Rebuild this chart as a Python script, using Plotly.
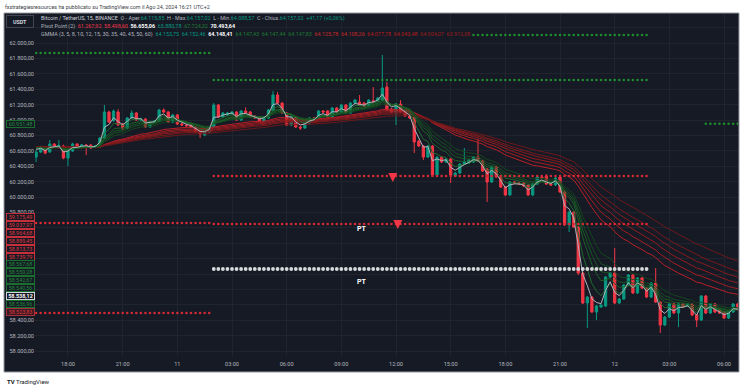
import plotly.graph_objects as go
from datetime import datetime, timedelta

# ---------------- data ----------------
open_ = [60519, 60584, 60649, 60584, 60688, 60660, 60662, 60506, 60597, 60688,
         60662, 60675, 60675, 60649, 60649, 60766, 61104, 60990, 61104, 60948,
         60896, 61026, 61091, 61000, 61013, 60909, 60974, 60987, 61130, 61104,
         60974, 61065, 60948, 60935, 60935, 60909, 60857, 60805, 60844, 60909,
         61195, 61039, 61065, 61078, 61104, 61000, 61117, 61104, 61052, 61039,
         60987, 61026, 61130, 61325, 61220, 61091, 60935, 61039, 60909, 60896,
         60961, 61026, 61026, 61117, 61117, 61039, 61156, 61104, 61195, 61091,
         61220, 61233, 61220, 61182, 61250, 61246, 61259, 61428, 61143, 61104,
         61208, 61117, 61052, 61039, 60727, 60662, 60519, 60662, 60286, 60519,
         60454, 60493, 60273, 60312, 60428, 60441, 60454, 60519, 60467, 60363,
         60195, 60389, 60260, 60130, 60026, 60195, 60182, 60182, 60156, 60026,
         60169, 60260, 60273, 60169, 60156, 60260, 60065, 59636, 59805, 59610,
         59013, 58623, 58701, 58506, 58571, 58584, 58961, 59013, 58623, 58675,
         58857, 58987, 58753, 58948, 58818, 58701, 58883, 58636, 58337, 58441,
         58610, 58493, 58610, 58584, 58610, 58467, 58402, 58714, 58493, 58610,
         58532, 58506, 58428, 58506, 58610]
high = [60610, 60665, 60662, 60740, 60700, 60740, 60680, 60620, 60705, 60700,
        60690, 60688, 60690, 60675, 60780, 61195, 61120, 61135, 61140, 60960,
        61040, 61125, 61105, 61030, 61025, 60990, 61000, 61145, 61150, 61117,
        61080, 61080, 60960, 60950, 60948, 60922, 60870, 60857, 60922, 61220,
        61210, 61104, 61104, 61117, 61117, 61130, 61165, 61117, 61065, 61052,
        61052, 61143, 61376, 61363, 61233, 61104, 61052, 61052, 60922, 60974,
        61039, 61039, 61130, 61130, 61130, 61170, 61170, 61208, 61208, 61233,
        61272, 61325, 61233, 61272, 61428, 61300, 61844, 61493, 61156, 61220,
        61259, 61130, 61065, 61052, 60740, 60675, 60675, 60675, 60530, 60530,
        60506, 60506, 60325, 60441, 60636, 60493, 60532, 60753, 60480, 60375,
        60402, 60402, 60273, 60143, 60208, 60208, 60195, 60195, 60169, 60182,
        60273, 60273, 60299, 60182, 60260, 60273, 60078, 59818, 59818, 59623,
        59026, 58714, 58714, 58597, 58610, 58974, 59026, 59338, 58688, 58870,
        59000, 59000, 58961, 58961, 58831, 58896, 59078, 58649, 58454, 58623,
        58623, 58623, 58623, 58623, 58623, 58480, 58727, 58727, 58623, 58623,
        58545, 58519, 58519, 58623, 58623]
low = [60454, 60570, 60555, 60575, 60650, 60648, 60490, 60402, 60585, 60635,
       60650, 60545, 60625, 60640, 60640, 60755, 60960, 60980, 60920, 60870,
       60885, 61015, 60990, 60985, 60895, 60900, 60965, 60975, 61090, 60960,
       60960, 60935, 60925, 60912, 60896, 60830, 60766, 60790, 60831, 60896,
       61026, 61026, 61052, 61065, 60987, 60987, 61078, 61026, 61013, 60974,
       60974, 61013, 61117, 61208, 61078, 60922, 60922, 60896, 60870, 60883,
       60948, 61005, 61013, 61090, 61026, 61026, 61090, 61091, 61078, 61078,
       61208, 61182, 61170, 61170, 61225, 61233, 61246, 61117, 61090, 60935,
       61090, 61039, 61013, 60571, 60649, 60480, 60506, 60273, 60273, 60441,
       60441, 60182, 60260, 60299, 60415, 60428, 60441, 60454, 60325, 59935,
       60182, 60247, 60117, 60013, 60013, 60169, 60156, 60130, 60013, 60013,
       60156, 60234, 60156, 60143, 60143, 60052, 59623, 59545, 59597, 58987,
       58610, 58298, 58493, 58402, 58558, 58571, 58948, 58610, 58610, 58662,
       58844, 58740, 58740, 58805, 58688, 58688, 58623, 58233, 58324, 58428,
       58480, 58311, 58558, 58571, 58454, 58311, 58389, 58480, 58480, 58493,
       58480, 58415, 58415, 58493, 58525]
close = [60584, 60649, 60571, 60688, 60662, 60670, 60506, 60610, 60688, 60649,
         60675, 60670, 60636, 60662, 60766, 61104, 60974, 61117, 60935, 60896,
         61026, 61091, 61000, 61013, 60909, 60974, 60987, 61130, 61104, 60974,
         61065, 60948, 60935, 60925, 60909, 60844, 60818, 60844, 60909, 61195,
         61039, 61091, 61091, 61104, 61000, 61117, 61091, 61039, 61026, 60987,
         61039, 61130, 61325, 61220, 61091, 60935, 61039, 60909, 60896, 60961,
         61026, 61020, 61117, 61104, 61039, 61156, 61104, 61195, 61091, 61220,
         61259, 61195, 61182, 61259, 61240, 61285, 61415, 61130, 61104, 61208,
         61104, 61052, 61026, 60714, 60662, 60519, 60662, 60286, 60519, 60454,
         60493, 60286, 60312, 60428, 60454, 60480, 60519, 60467, 60337, 60195,
         60389, 60260, 60130, 60026, 60195, 60182, 60169, 60143, 60026, 60169,
         60260, 60247, 60169, 60156, 60247, 60065, 59636, 59805, 59610, 59013,
         58623, 58701, 58506, 58584, 58597, 58961, 59013, 58623, 58675, 58857,
         58987, 58753, 58948, 58818, 58701, 58883, 58636, 58337, 58441, 58610,
         58493, 58610, 58571, 58610, 58467, 58402, 58714, 58493, 58610, 58506,
         58493, 58428, 58506, 58610, 58538]

START = datetime(2024, 8, 10, 16, 15)
BAR_MINUTES = 15

gmma_short = [3, 5, 8, 10, 12, 15]
gmma_long = [30, 35, 40, 45, 50, 60]
gmma_seed = 60650

# pivot point levels (dotted, one dot per bar)
pivot_value = [61870, 59662, 58494, 62104, 61519, 60273, 59649, 59065, 60951]
pivot_kind = ["res", "sup", "sup", "res", "res", "sup", "sup", "pp", "res"]
pivot_from = ["2024-08-10 16:15"] * 3 + ["2024-08-11 02:00"] * 5 + ["2024-08-12 05:00"]
pivot_to = ["2024-08-11 01:45"] * 3 + ["2024-08-12 01:45"] * 5 + ["2024-08-12 06:45"]

arrow_time = ["2024-08-11 11:49:30", "2024-08-11 12:06"]
arrow_price = [60195, 59584]
pt_time = ["2024-08-11 10:07:30", "2024-08-11 10:07:30"]
pt_price = [59584, 58896]

x_tick_times = ["2024-08-10 18:00", "2024-08-10 21:00", "2024-08-11 00:00", "2024-08-11 03:00",
                "2024-08-11 06:00", "2024-08-11 09:00", "2024-08-11 12:00", "2024-08-11 15:00",
                "2024-08-11 18:00", "2024-08-11 21:00", "2024-08-12 00:00", "2024-08-12 03:00",
                "2024-08-12 06:00"]
x_tick_text = ["18:00", "21:00", "11", "03:00", "06:00", "09:00", "12:00", "15:00",
               "18:00", "21:00", "12", "03:00", "06:00"]
y_tick_vals = [58000, 58200, 58400, 58600, 58800, 59000, 59200, 59400, 59600, 59800,
               60000, 60200, 60400, 60600, 60800, 61000, 61200, 61400, 61600, 61800,
               62000, 62200]
y_tick_text = ["58.000,00", "58.200,00", "58.400,00", "", "", "", "", "", "", "59.800,00",
               "60.000,00", "60.200,00", "60.400,00", "60.600,00", "60.800,00", "61.000,00",
               "61.200,00", "61.400,00", "61.600,00", "61.800,00", "62.000,00", ""]

axis_label_text = ["59.175,49", "59.037,97", "58.964,68", "58.889,45", "58.813,73", "58.739,79",
                   "58.567,68", "58.550,28", "58.542,67", "58.540,56", "58.538,12", "58.536,96",
                   "58.523,83"]
axis_label_kind = ["red", "red", "red", "red", "red", "red",
                   "green", "green", "green", "green", "last", "green", "red2"]
pivot_axis_label = "60.951,48"

header_text = "fxstrategiesresources ha pubblicato su TradingView.com il Ago 24, 2024 16:21 UTC+2"
legend_ohlc = ["64.115,85", "64.157,02", "64.088,57", "64.157,02", "+41,17 (+0,06%)"]
legend_pivots = ["61.267,92", "58.498,60", "56.655,06", "65.880,78", "67.724,32", "70.493,64"]
legend_gmma = ["64.153,75", "64.152,46", "64.148,41", "64.147,43", "64.147,44", "64.147,83",
               "64.125,78", "64.108,26", "64.077,78", "64.043,48", "64.004,07", "63.912,08"]

# ---------------- styles ----------------
PANEL = "#161a25"
GRID = "#20242f"
TXT = "#b2b5be"
GREEN = "#089981"
RED = "#f23645"
FONT = "Roboto, Arial, sans-serif"

W, H = 743, 390
ML, MR, MT, MB = 35, 5, 14, 34
PW, PH = W - ML - MR, H - MT - MB


def px(x):
    return (x - ML) / PW


def py(y):
    return (H - MB - y) / PH


times = [START + timedelta(minutes=BAR_MINUTES * i) for i in range(len(close))]


def ema(values, period, seed):
    a = 2.0 / (period + 1)
    e = seed
    out = []
    for v in values:
        e = a * v + (1 - a) * e
        out.append(e)
    return out


fig = go.Figure()

fig.add_trace(go.Candlestick(
    x=times, open=open_, high=high, low=low, close=close,
    increasing=dict(line=dict(color=GREEN, width=1), fillcolor=GREEN),
    decreasing=dict(line=dict(color=RED, width=1), fillcolor=RED),
    whiskerwidth=0, showlegend=False, hoverinfo="skip"))

long_colors = ["#b81f25", "#a61d22", "#951b20", "#861a1e", "#78191c", "#6c181b"]
for p, c in zip(gmma_long, long_colors):
    fig.add_trace(go.Scatter(x=times, y=ema(close, p, gmma_seed), mode="lines",
                             line=dict(color=c, width=1), showlegend=False, hoverinfo="skip"))
short_colors = ["#aeb2bb", "#1f6a2b", "#1c6127", "#195824", "#164f21", "#13461e"]
for p, c in reversed(list(zip(gmma_short, short_colors))):
    fig.add_trace(go.Scatter(x=times, y=ema(close, p, gmma_seed), mode="lines",
                             line=dict(color=c, width=1), showlegend=False, hoverinfo="skip"))

dot_style = {"res": dict(color="#1e8c2e", size=2.6),
             "sup": dict(color="#d52a33", size=2.6),
             "pp": dict(color="#d8d9dc", size=3.8)}
for v, k, f, t in zip(pivot_value, pivot_kind, pivot_from, pivot_to):
    f_dt = datetime.strptime(f, "%Y-%m-%d %H:%M")
    t_dt = datetime.strptime(t, "%Y-%m-%d %H:%M")
    xs = [tt for tt in times if f_dt <= tt <= t_dt]
    fig.add_trace(go.Scatter(x=xs, y=[v] * len(xs), mode="markers",
                             marker=dict(symbol="circle", line=dict(width=0), **dot_style[k]),
                             showlegend=False, hoverinfo="skip"))

ann = []
# arrows
for t, pz in zip(arrow_time, arrow_price):
    ann.append(dict(x=t, y=pz, xref="x", yref="y", text="", showarrow=True,
                    arrowhead=2, arrowsize=0.9, arrowwidth=2, arrowcolor=RED,
                    ax=0, ay=-10, standoff=0))
for t, pz in zip(pt_time, pt_price):
    ann.append(dict(x=t, y=pz, xref="x", yref="y", text="<b>PT</b>", showarrow=False,
                    font=dict(family=FONT, size=7, color="#ffffff")))

# top header and logo
ann.append(dict(x=px(3), y=py(7), xref="paper", yref="paper", text=header_text,
                showarrow=False, xanchor="left", yanchor="middle",
                font=dict(family=FONT, size=5.4, color="#3a3d45")))
ann.append(dict(x=px(5), y=py(381), xref="paper", yref="paper",
                text="<b>TV</b> TradingView", showarrow=False, xanchor="left", yanchor="middle",
                font=dict(family=FONT, size=6, color="#131722")))

# USDT box
ann.append(dict(x=px(20), y=py(21.5), xref="paper", yref="paper", text="<b>USDT</b>",
                showarrow=False, xanchor="center", yanchor="middle", width=24, height=9,
                bordercolor="#434651", borderwidth=1, borderpad=1, bgcolor=PANEL,
                font=dict(family=FONT, size=5.4, color="#d1d4dc")))

G = "color:%s" % GREEN
sp = "\u00a0"
line1 = ("<span style='color:#d1d4dc'>Bitcoin / TetherUS, 15, BINANCE</span>" + sp * 2 +
         "O - Aper.<span style='%s'>%s</span>" % (G, legend_ohlc[0]) + sp * 2 +
         "H - Max.<span style='%s'>%s</span>" % (G, legend_ohlc[1]) + sp * 2 +
         "L - Min.<span style='%s'>%s</span>" % (G, legend_ohlc[2]) + sp * 2 +
         "C - Chius.<span style='%s'>%s</span>" % (G, legend_ohlc[3]) + sp * 2 +
         "<span style='%s'>%s</span>" % (G, legend_ohlc[4]))
piv_cols = [RED, RED, "#ffffff", GREEN, "#1e7a32", "#ffffff"]
line2 = "Pivot Point (2)" + "".join(
    sp * 2 + ("<span style='color:%s'>%s</span>" % (c, ("<b>%s</b>" % v) if c == "#ffffff" else v))
    for v, c in zip(legend_pivots, piv_cols))
gm_cols = [GREEN, GREEN, "#ffffff", "#1e7a32", "#1e7a32", "#1e7a32",
           "#c62828", "#c62828", "#b71c1c", "#b71c1c", "#9c1c1c", "#9c1c1c"]
line3 = "GMMA (3, 5, 8, 10, 12, 15, 30, 35, 40, 45, 50, 60)" + "".join(
    sp * 2 + ("<span style='color:%s'>%s</span>" % (c, ("<b>%s</b>" % v) if c == "#ffffff" else v))
    for v, c in zip(legend_gmma, gm_cols))
for txt, yy, bg in [(line1, 19, None), (line2, 27, None), (line3, 35, PANEL)]:
    d = dict(x=px(40), y=py(yy), xref="paper", yref="paper", text=txt, showarrow=False,
             xanchor="left", yanchor="middle", borderpad=0,
             font=dict(family=FONT, size=5.4, color=TXT))
    if bg:
        d["bgcolor"] = bg
    ann.append(d)

# stacked price labels on the left axis
lab_style = {"red": ("#e0343e", "#c5303a", PANEL),
             "green": ("#1f8a3a", "#1b6e2e", PANEL),
             "last": ("#ffffff", "#d1d4dc", PANEL),
             "red2": ("#e0343e", "#a3303a", "#3a1a22")}
for k, (txt, kind) in enumerate(zip(axis_label_text, axis_label_kind)):
    fc, bc, bg = lab_style[kind]
    ann.append(dict(x=px(20.5), y=py(217 + k * 7.9), xref="paper", yref="paper",
                    text=("<b>%s</b>" % txt) if kind == "last" else txt, showarrow=False,
                    xanchor="center", yanchor="middle", width=27, height=6,
                    bordercolor=bc, borderwidth=1, borderpad=0, bgcolor=bg,
                    font=dict(family=FONT, size=5.4, color=fc)))
ann.append(dict(x=px(20.5), y=py(123.5), xref="paper", yref="paper", text=pivot_axis_label,
                showarrow=False, xanchor="center", yanchor="middle", width=27, height=6,
                bordercolor="#1b6e2e", borderwidth=1, borderpad=0, bgcolor=PANEL,
                font=dict(family=FONT, size=5.4, color="#1f8a3a")))

shapes = [dict(type="rect", xref="paper", yref="paper", x0=px(4), x1=px(739), y0=py(372), y1=py(13),
               fillcolor=PANEL, line=dict(color="#9598a1", width=1), layer="below")]

fig.update_layout(
    width=W, height=H, margin=dict(l=ML, r=MR, t=MT, b=MB, autoexpand=False),
    paper_bgcolor="#ffffff", plot_bgcolor=PANEL, showlegend=False,
    annotations=ann, shapes=shapes,
    xaxis=dict(type="date", range=["2024-08-10 16:11:24", "2024-08-12 06:46:00"],
               tickvals=x_tick_times, ticktext=x_tick_text, showgrid=True, gridcolor=GRID,
               gridwidth=1, zeroline=False, showline=False, ticks="", automargin=False,
               ticklabelstandoff=3,
               tickfont=dict(family=FONT, size=5.6, color=TXT), rangeslider=dict(visible=False),
               fixedrange=True),
    yaxis=dict(side="left", range=[57935, 62377], tickvals=y_tick_vals, ticktext=y_tick_text,
               showgrid=True, gridcolor=GRID, gridwidth=1, zeroline=False, showline=False,
               automargin=False,
               ticks="", tickfont=dict(family=FONT, size=5.6, color=TXT), fixedrange=True),
)

fig.write_html("out.html", config={"displayModeBar": False},
               post_script="document.body.style.margin='0';document.body.style.padding='0';")
